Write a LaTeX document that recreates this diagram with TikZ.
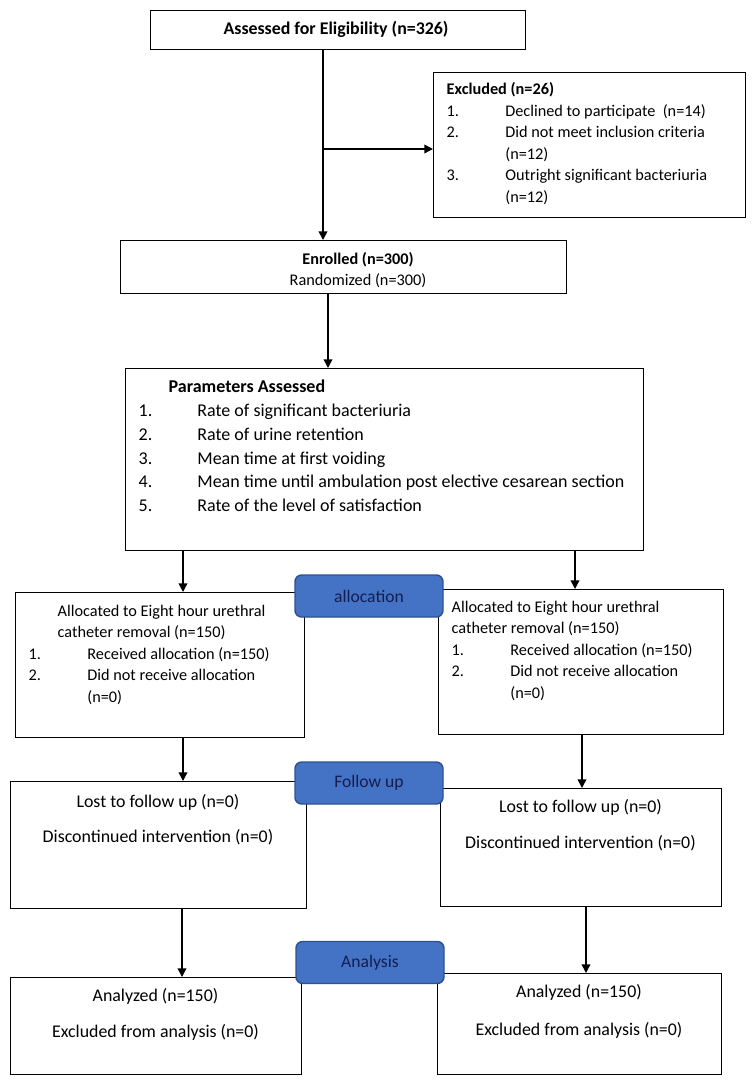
\documentclass[tikz,border=0pt]{standalone}
\usepackage{fontspec}
\setmainfont{Carlito}
\usetikzlibrary{arrows.meta}
\tikzset{every picture/.style={line width=1.1pt}}
\definecolor{badgeblue}{RGB}{68,114,196}
\definecolor{badgeline}{RGB}{47,82,143}
\definecolor{badgetext}{RGB}{20,30,80}
\newcommand{\numitem}[2]{\makebox[44pt][l]{#1}#2}
\newcommand{\listfont}{\fontsize{12.2pt}{16.1pt}\selectfont}
\newcommand{\pairfont}[1]{\fontsize{13.4pt}{#1}\selectfont}

\begin{document}
\begin{tikzpicture}[x=0.75pt,y=0.75pt,yscale=-1,xscale=1,
  box/.style={draw, line width=1.1pt, inner sep=0pt, anchor=north west},
  badge/.style={draw=badgeline, fill=badgeblue, rounded corners=5pt, line width=1.1pt, minimum width=111pt, minimum height=31.5pt, inner sep=0pt, text=badgetext, font=\fontsize{13.2pt}{15pt}\selectfont},
  flow/.style={-{Triangle[length=6.5pt,width=6.5pt]}, line width=1.1pt},
  txt/.style={inner sep=0pt, align=left, anchor=base west, font=\listfont},
  ctxt/.style={inner sep=0pt, align=center, anchor=base, font=\listfont}]
\useasboundingbox (0,0) rectangle (755,1083);

%Shape: Rectangle
\node[box, minimum width=281.25pt, minimum height=29.25pt] (assess) at (150,10) {};
%Shape: Rectangle
\node[box, minimum width=234pt, minimum height=108.75pt] (excl) at (433,72) {};
%Shape: Rectangle
\node[box, minimum width=334.5pt, minimum height=39.75pt] (enrol) at (120,240) {};
%Shape: Rectangle
\node[box, minimum width=388.5pt, minimum height=136.5pt] (params) at (125,368) {};
%Shape: Rectangle
\node[box, minimum width=216.75pt, minimum height=108.75pt] (allocL) at (15,592) {};
%Shape: Rectangle
\node[box, minimum width=213.75pt, minimum height=108.75pt] (allocR) at (438,589) {};
%Shape: Rectangle
\node[box, minimum width=222pt, minimum height=95.25pt] (followL) at (10,781) {};
%Shape: Rectangle
\node[box, minimum width=210.75pt, minimum height=88.5pt] (followR) at (440,788) {};
%Shape: Rectangle
\node[box, minimum width=218.25pt, minimum height=72.75pt] (anaL) at (10,977) {};
%Shape: Rectangle
\node[box, minimum width=213pt, minimum height=75.75pt] (anaR) at (437,973) {};

%Straight Lines
\coordinate (split) at (323,149);
\draw[flow] (323,0 |- assess.south) -- (323,0 |- enrol.north);
\draw[flow] (split) -- (excl.west |- split);
\draw[flow] (328,0 |- enrol.south) -- (328,0 |- params.north);
\draw[flow] (183,0 |- params.south) -- (183,0 |- allocL.north);
\draw[flow] (575,0 |- params.south) -- (575,0 |- allocR.north);
\draw[flow] (183,0 |- allocL.south) -- (183,0 |- followL.north);
\draw[flow] (582,0 |- allocR.south) -- (582,0 |- followR.north);
\draw[flow] (182,0 |- followL.south) -- (182,0 |- anaL.north);
\draw[flow] (586,0 |- followR.south) -- (586,0 |- anaR.north);

%Shape: Rounded Rect
\node[badge] (allocTag) at (369,596) {allocation};
\node[badge] (followTag) at (369,783) {Follow up};
\node[badge] (anaTag) at (370,962.5) {Analysis};

% Text Node
\node[ctxt, font=\pairfont{16pt}\bfseries] (assessT) at (336,34.5) {Assessed for Eligibility (n=326)};
% Text Node
\node[txt] (exclT) at (446,202) {\textbf{Excluded (n=26)}\\
  \numitem{1.}{Declined to participate\ \ (n=14)}\\
  \numitem{2.}{Did not meet inclusion criteria}\\
  \numitem{}{(n=12)}\\
  \numitem{3.}{Outright significant bacteriuria}\\
  \numitem{}{(n=12)}};
% Text Node
\node[ctxt, font=\fontsize{12.2pt}{15.75pt}\selectfont] (enrolT) at (358,285) {\textbf{Enrolled (n=300)}\\Randomized (n=300)};
% Text Node
\node[txt, font=\fontsize{13.5pt}{17.8pt}\selectfont] (paramsT) at (138,511.5) {\hspace*{22.5pt}\textbf{Parameters Assessed}\\
  \numitem{1.}{Rate of significant bacteriuria}\\
  \numitem{2.}{Rate of urine retention}\\
  \numitem{3.}{Mean time at first voiding}\\
  \numitem{4.}{Mean time until ambulation post elective cesarean section}\\
  \numitem{5.}{Rate of the level of satisfaction}};
% Text Node
\node[txt] (allocLT) at (28,702) {\hspace*{21.75pt}Allocated to Eight hour urethral\\
  \hspace*{21.75pt}catheter removal (n=150)\\
  \numitem{1.}{Received allocation (n=150)}\\
  \numitem{2.}{Did not receive allocation}\\
  \numitem{}{(n=0)}};
% Text Node
\node[txt] (allocRT) at (451,698) {Allocated to Eight hour urethral\\
  catheter removal (n=150)\\
  \numitem{1.}{Received allocation (n=150)}\\
  \numitem{2.}{Did not receive allocation}\\
  \numitem{}{(n=0)}};
% Text Node
\node[ctxt, font=\pairfont{26.25pt}] (followLT) at (158,842.5) {Lost to follow up (n=0)\\Discontinued intervention (n=0)};
% Text Node
\node[ctxt, font=\pairfont{27pt}] (followRT) at (580.5,848.5) {Lost to follow up (n=0)\\Discontinued intervention (n=0)};
% Text Node
\node[ctxt, font=\pairfont{27pt}] (anaLT) at (155.5,1037.5) {Analyzed (n=150)\\Excluded from analysis (n=0)};
% Text Node
\node[ctxt, font=\pairfont{28.5pt}] (anaRT) at (579,1035.5) {Analyzed (n=150)\\Excluded from analysis (n=0)};

\end{tikzpicture}
\end{document}
